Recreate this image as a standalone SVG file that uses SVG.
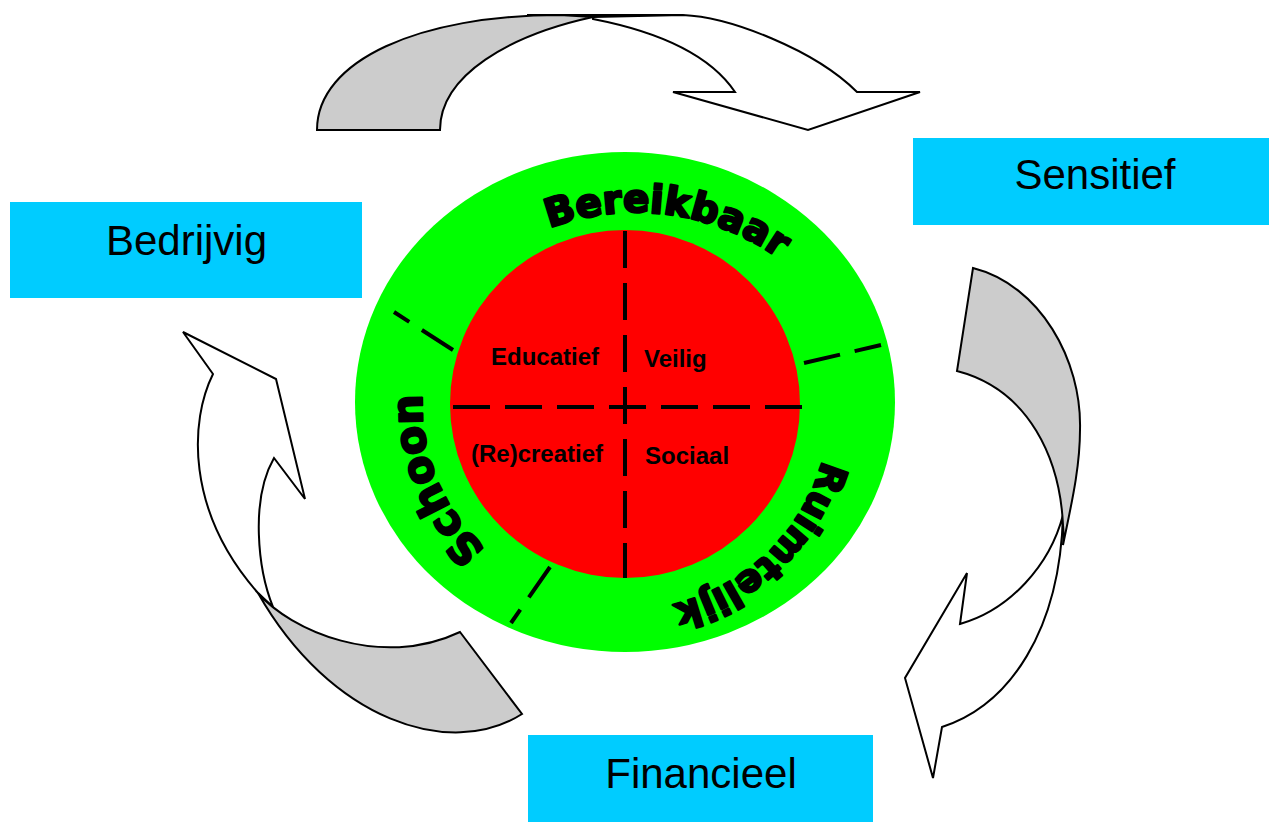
<svg xmlns="http://www.w3.org/2000/svg" width="1269" height="823" viewBox="0 0 1269 823">
<style>
.box{fill:#00CCFF}
.boxt{font-family:"Liberation Sans",Arial,sans-serif;font-size:42px;fill:#000;text-anchor:middle}
.lab{font-family:"Liberation Sans",Arial,sans-serif;font-size:24px;font-weight:bold;fill:#000}
.arc{font-family:"DejaVu Sans",sans-serif;font-weight:bold;font-size:39px;fill:#000;stroke:#000;stroke-width:2.4;stroke-linejoin:round}
.dash{stroke:#000;stroke-width:4;fill:none;stroke-dasharray:37 15}
.arw{stroke:#000;stroke-width:2;stroke-linejoin:miter}
.g{fill:#CCCCCC}
.w{fill:#FFFFFF}
</style>
<defs>
<path id="pBer" d="M463,284 A245,245 0 0 1 848,334.5"/>
<path id="pSch" d="M491,553 A193,193 0 0 1 423,388"/>
<path id="pRui" d="M825.5,447.6 A205,205 0 0 1 660.6,606.9"/>
</defs>
<rect width="1269" height="823" fill="#fff"/>
<g id="connectors">
<g id="arrow-top">
<path class="arw g" d="M317,130 L440,130 C440,75 510,35 593,17 L560,15 C420,15 317,60 317,130 Z"/>
<path class="arw w" d="M593,17 L683,15 C730,17 815,50 857,92 L920,92 L808,130 L673,92 L735,92 C710,55 660,32 593,19 Z"/>
<path fill="none" stroke="#000" stroke-width="2" d="M527,15 L683,15"/>
</g>
<g id="arrow-right">
<path class="arw w" d="M1063,515 C1050,565 1010,610 960,624 L967,573 L905,678 L933,778 L942,727 C1010,705 1060,630 1063,515 Z"/>
<path class="arw g" d="M973,268 C1040,285 1082,360 1080,430 C1080,470 1070,510 1063,545 C1064,530 1063,527 1063,525 C1060,460 1030,390 957,371 Z"/>
</g>
<g id="arrow-left">
<path class="arw w" d="M213,374 C190,420 185,510 258,593 L273,607 C258,570 250,500 274,458 L305,499 L276,379 L183,332 Z"/>
<path class="arw g" d="M460,632 L522,714 C450,760 330,720 258,593 C290,630 380,670 460,632 Z"/>
</g>
</g>
<g id="ring">
<ellipse cx="625" cy="402" rx="270" ry="250" fill="#00FF00"/>
<path class="dash" d="M453,350 L394,312"/>
<path class="dash" d="M804,363 L881,345"/>
<path class="dash" d="M550,567 L511,623"/>
<text class="arc"><textPath href="#pBer" startOffset="50%" text-anchor="middle">Bereikbaar</textPath></text>
<text class="arc" style="font-size:42px"><textPath href="#pSch" startOffset="50%" text-anchor="middle">Schoon</textPath></text>
<text class="arc" style="font-size:38px"><textPath href="#pRui" startOffset="50%" text-anchor="middle">Ruimtelijk</textPath></text>
</g>
<g id="core">
<ellipse cx="625" cy="404" rx="175" ry="174" fill="#FF0000"/>
<path class="dash" d="M625,231 L625,578"/>
<path class="dash" d="M802,407 L450,407"/>
<text class="lab" x="491" y="365">Educatief</text>
<text class="lab" x="644" y="367">Veilig</text>
<text class="lab" x="471" y="462">(Re)creatief</text>
<text class="lab" x="645" y="464">Sociaal</text>
</g>
<g id="node-bedrijvig">
<rect class="box" x="10" y="202" width="352" height="96"/>
<text class="boxt" x="186.5" y="255">Bedrijvig</text>
</g>
<g id="node-sensitief">
<rect class="box" x="913" y="138" width="356" height="87"/>
<text class="boxt" x="1095" y="189">Sensitief</text>
</g>
<g id="node-financieel">
<rect class="box" x="528" y="735" width="345" height="87"/>
<text class="boxt" x="701" y="788">Financieel</text>
</g>
</svg>
